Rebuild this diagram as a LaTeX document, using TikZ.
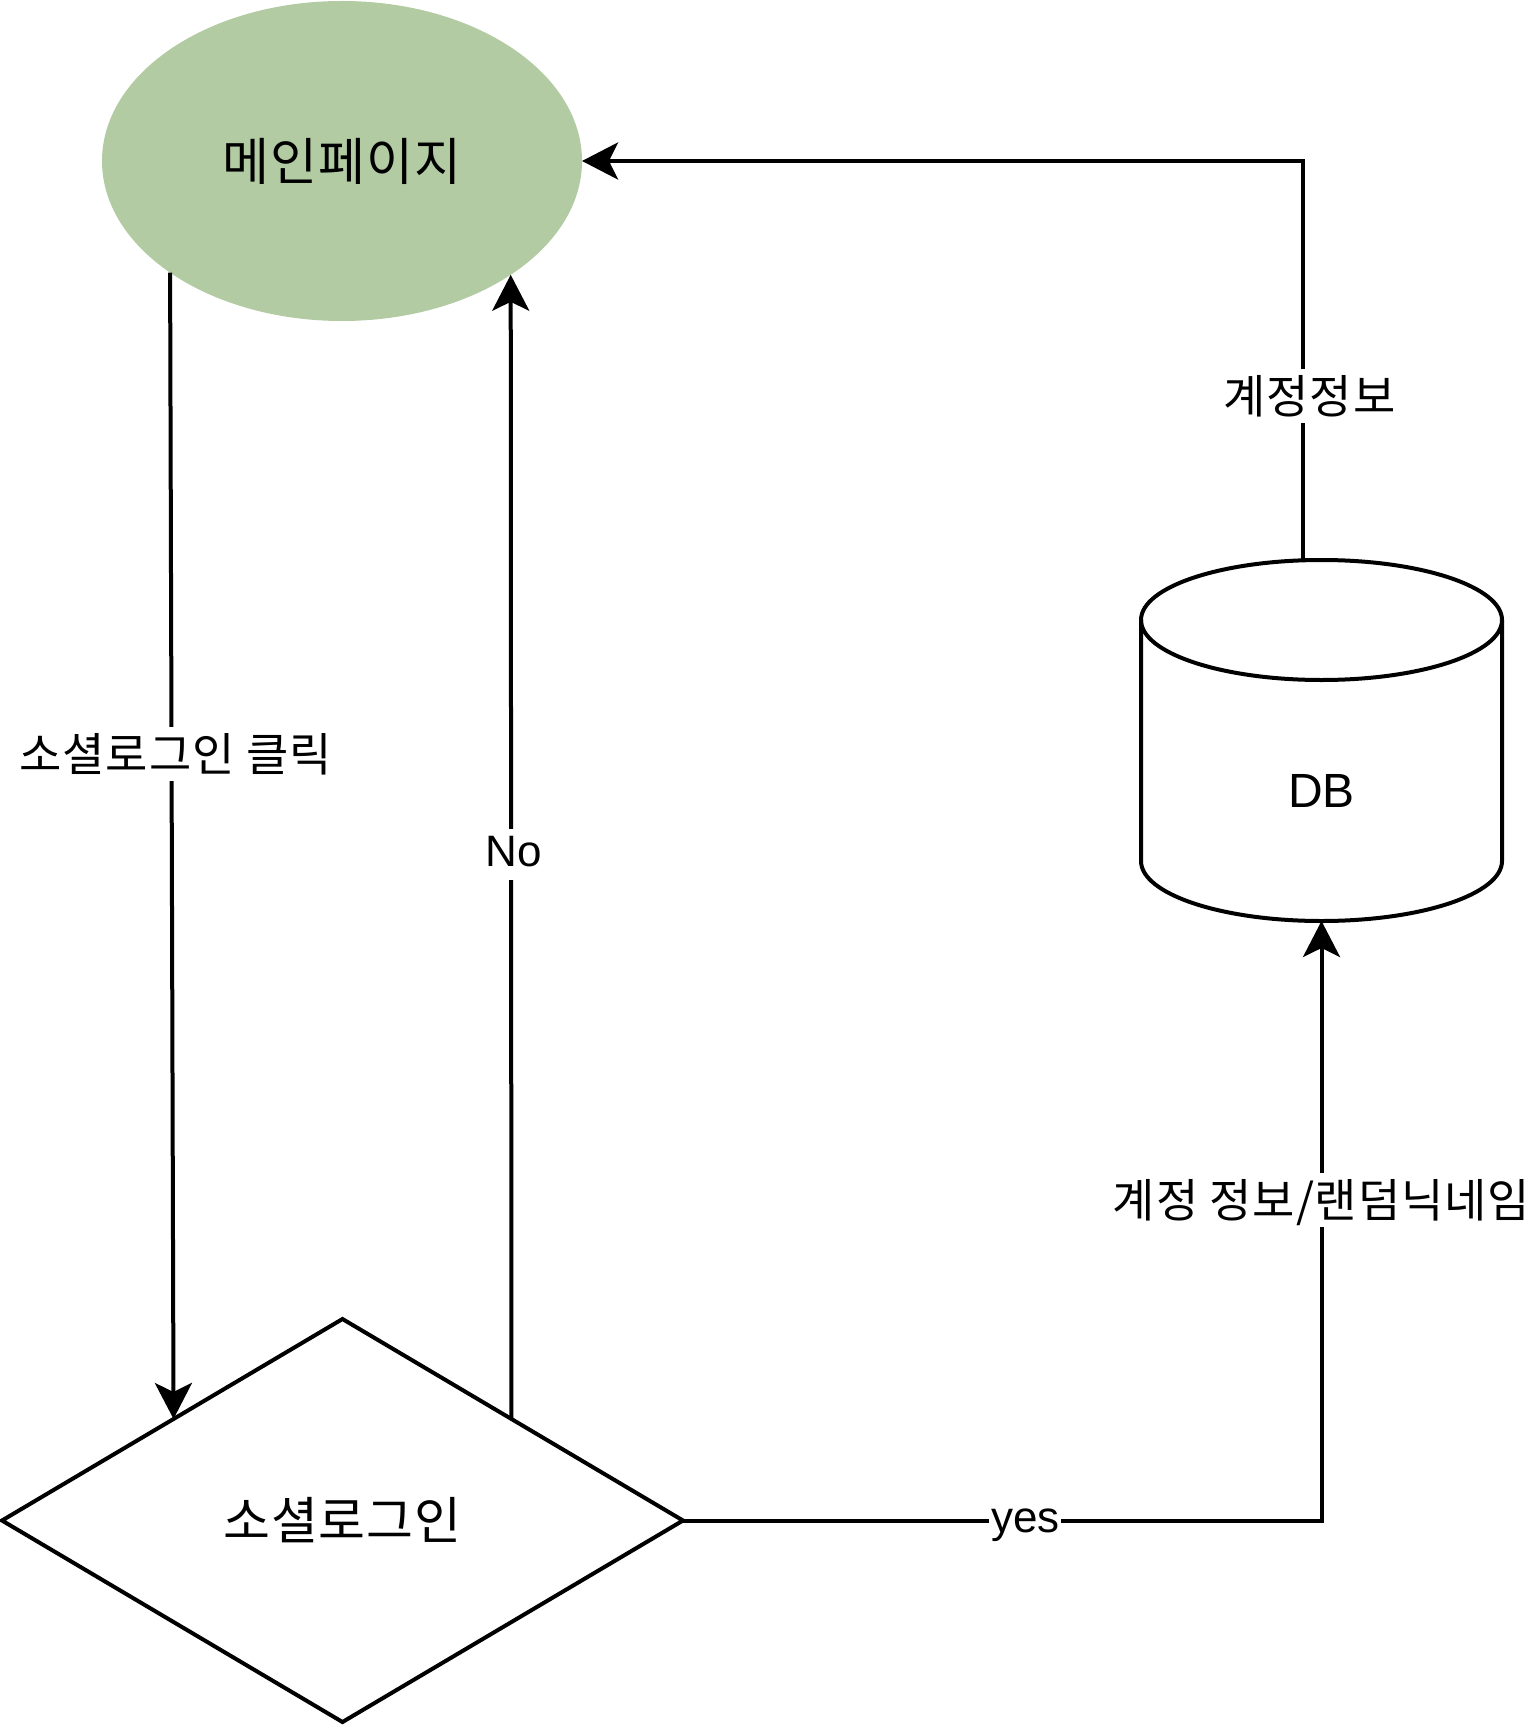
\documentclass[tikz,border=0pt]{standalone}
\usepackage{fontspec}
\setmainfont{Liberation Sans}
\newfontfamily\krfont[LetterSpace=2]{Noto Sans CJK KR}
\usepackage{xcolor}
\usepackage{tikz}
\usetikzlibrary{shapes,arrows.meta,positioning,calc}
\definecolor{mainGreen}{RGB}{178,203,163}

\tikzset{
  flow/.style={line width=4pt, -{Stealth[length=36pt,width=37pt,inset=9pt]}},
  plainline/.style={line width=4pt},
  pagenode/.style={ellipse, fill=mainGreen, minimum width=480pt, minimum height=320pt,
    inner sep=0pt, outer sep=0pt, font=\krfont\fontsize{51}{60}\selectfont},
  decision/.style={diamond, draw, line width=4pt, minimum width=681pt, minimum height=403pt,
    inner sep=0pt, outer sep=0pt, font=\krfont\fontsize{51}{60}\selectfont},
  dbbox/.style={rectangle, minimum width=361pt, minimum height=361pt, inner sep=0pt, outer sep=0pt},
  dbtext/.style={font=\fontsize{48}{56}\selectfont},
  flowlabel/.style={fill=white, inner xsep=2pt, inner ysep=4pt, text height=33pt, text depth=10pt,
    font=\fontsize{44}{52}\selectfont},
  krlabel/.style={fill=white, inner xsep=2pt, inner ysep=4pt, text height=40pt, text depth=6pt,
    font=\krfont\fontsize{46}{54}\selectfont}
}

\begin{document}
\begin{tikzpicture}[x=1pt, y=-1pt]
    \useasboundingbox (0,0) rectangle (1532,1728);

    % nodes
    \node[pagenode] (main) at (342,161) {메인페이지};
    \node[decision] (login) at (342.5,1520.5) {소셜로그인};
    \node[dbbox] (db) at (1321.5,740.5) {};
    \node[dbtext] (dbname) at ($(db.center)+(0,50)$) {DB};

    % cylinder
    \draw[plainline] ($(db.north)+(0,60)$) ellipse [x radius=180.5, y radius=60];
    \draw[plainline] ($(db.north west)+(0,60)$) -- ($(db.south west)+(0,-60)$)
        arc [start angle=180, end angle=0, x radius=180.5, y radius=60]
        -- ($(db.north east)+(0,60)$);
    \coordinate (dbtop) at ($(db.north)+(-19,0)$);

    % connectors
    \draw[flow] (main.213.6) -- node[krlabel, pos=0.42, xshift=4pt] (clicklabel) {소셜로그인 클릭} (login.149.45);
    \draw[flow] (login.31.13) -- node[flowlabel, pos=0.493, xshift=3pt] (nolabel) {No} (main.326.09);
    \draw[flow] (login.east) -| node[flowlabel, pos=0.268] (yeslabel) {yes}
        node[krlabel, pos=0.767] (savelabel) {계정 정보/랜덤닉네임} (db.south);
    \draw[flow] (dbtop) |- node[krlabel, pos=0.205, xshift=7pt] (infolabel) {계정정보} (main.east);
\end{tikzpicture}
\end{document}
